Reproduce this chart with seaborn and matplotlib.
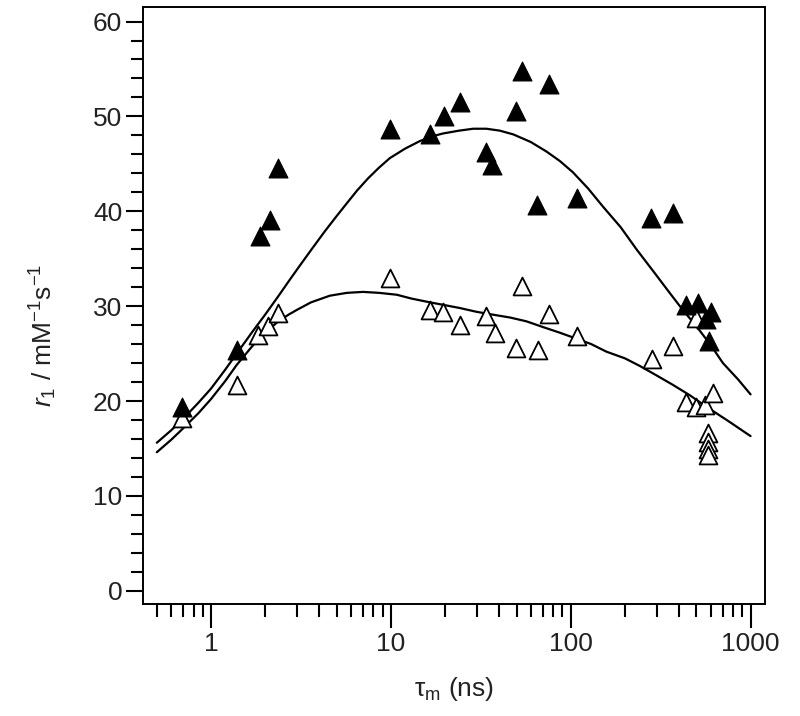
import matplotlib
matplotlib.use("Agg")
import matplotlib.pyplot as plt
import seaborn as sns
import pandas as pd
import numpy as np
from matplotlib.ticker import FixedLocator, LogLocator, NullFormatter, FixedFormatter

# ---- data ----
tau_filled = [0.69, 1.39, 1.87, 2.13, 2.37, 9.9, 16.5, 19.8, 24.2, 34.0, 36.3, 49.5, 53.9,
              65.0, 75.5, 109, 281, 370, 439, 509, 568, 587, 605]
r_filled = [19.4, 25.4, 37.4, 39.1, 44.6, 48.7, 48.1, 50.0, 51.5, 46.2, 44.9, 50.6, 54.8,
            40.7, 53.4, 41.4, 39.3, 39.8, 30.1, 30.3, 28.6, 26.3, 29.4]

tau_open = [0.69, 1.39, 1.83, 2.08, 2.37, 9.9, 16.5, 19.5, 24.2, 34.0, 37.8, 49.5, 53.9,
            65.8, 75.7, 108, 284, 370, 435, 499, 499, 555, 618, 580, 580, 580, 580]
r_open = [18.2, 21.7, 27.0, 27.9, 29.3, 33.0, 29.6, 29.4, 28.0, 29.0, 27.2, 25.6, 32.1,
          25.4, 29.2, 26.8, 24.4, 25.8, 19.9, 19.4, 28.8, 19.6, 20.8, 16.6, 15.7, 14.9, 14.3]

tau_fit_hi = [0.5, 0.6, 0.69, 0.85, 1.0, 1.2, 1.39, 1.7, 2.0, 2.4, 2.7, 3.1, 3.63, 4.3, 5.0,
              5.67, 6.5, 7.5, 8.6, 9.87, 12, 14.5, 17, 19.5, 24, 28.7, 34, 40.3, 48, 60,
              73.3, 87, 103, 125, 151, 190, 232, 290, 355, 420, 499, 600, 702, 850, 1000]
r_fit_hi = [15.6, 16.9, 18.0, 19.8, 21.3, 23.3, 25.0, 27.3, 29.1, 31.2, 32.6, 34.2, 36.0,
            37.9, 39.5, 40.8, 42.2, 43.5, 44.6, 45.6, 46.6, 47.4, 47.9, 48.2, 48.5, 48.7,
            48.7, 48.5, 48.1, 47.3, 46.3, 45.3, 44.1, 42.4, 40.5, 38.3, 36.0, 33.6, 31.4,
            29.6, 27.9, 25.9, 24.0, 22.3, 20.7]

tau_fit_lo = [0.5, 0.6, 0.69, 0.85, 1.0, 1.2, 1.39, 1.7, 2.0, 2.37, 2.7, 3.0, 3.6, 4.58, 5.7,
              7.0, 8.6, 10.8, 13, 16.5, 20, 24.2, 30, 37, 46, 56.7, 70, 87, 103, 130, 158,
              200, 242, 300, 370, 460, 568, 750, 1000]
r_fit_lo = [14.6, 15.9, 17.0, 18.7, 20.2, 22.1, 23.8, 25.8, 27.2, 28.4, 29.1, 29.6, 30.4,
            31.1, 31.4, 31.5, 31.4, 31.2, 30.8, 30.4, 30.1, 29.8, 29.4, 29.1, 28.8, 28.4,
            27.8, 27.2, 26.7, 26.0, 25.2, 24.5, 23.7, 22.7, 21.7, 20.6, 19.4, 17.9, 16.3]

x_major = [1, 10, 100, 1000]
x_labels = ["1", "10", "100", "1000"]
y_major = [0, 10, 20, 30, 40, 50, 60]

# ---- style ----
sns.set_style("ticks")
plt.rcParams["font.family"] = ["Liberation Sans", "DejaVu Sans"]
plt.rcParams["mathtext.fontset"] = "custom"
plt.rcParams["mathtext.rm"] = "Liberation Sans"
plt.rcParams["mathtext.it"] = "Liberation Sans:italic"

fig = plt.figure(figsize=(8.0, 7.16), dpi=100)
ax = fig.add_axes([0.179, 0.1564, 0.777, 0.8334])

df_hi = pd.DataFrame({"tau": tau_fit_hi, "r": r_fit_hi})
df_lo = pd.DataFrame({"tau": tau_fit_lo, "r": r_fit_lo})
sns.lineplot(data=df_hi, x="tau", y="r", ax=ax, color="black", lw=1.6, sort=False,
             estimator=None, zorder=2)
sns.lineplot(data=df_lo, x="tau", y="r", ax=ax, color="black", lw=1.6, sort=False,
             estimator=None, zorder=2)

df_open = pd.DataFrame({"tau": tau_open, "r": r_open})
df_filled = pd.DataFrame({"tau": tau_filled, "r": r_filled})
sns.scatterplot(data=df_open, x="tau", y="r", ax=ax, marker="^", s=165,
                facecolor="white", edgecolor="black", linewidth=1.3, zorder=3)
sns.scatterplot(data=df_filled, x="tau", y="r", ax=ax, marker="^", s=185,
                color="black", edgecolor="black", linewidth=0.8, zorder=4)

ax.set_xscale("log")
ax.set_xlim(0.42, 1200)
ax.set_ylim(-1.4, 61.5)

ax.xaxis.set_major_locator(FixedLocator(x_major))
ax.xaxis.set_major_formatter(FixedFormatter(x_labels))
ax.xaxis.set_minor_locator(LogLocator(base=10, subs=np.arange(2, 10)))
ax.xaxis.set_minor_formatter(NullFormatter())
ax.yaxis.set_major_locator(FixedLocator(y_major))
ax.yaxis.set_minor_locator(FixedLocator(np.arange(0, 61, 2)))

ax.tick_params(axis="both", which="major", direction="out", length=17, width=1.5,
               labelsize=19, colors="black", labelcolor="#222222", pad=3)
ax.tick_params(axis="both", which="minor", direction="out", length=9, width=1.5,
               colors="black")
ax.tick_params(axis="y", which="major", length=12)
ax.tick_params(axis="y", which="minor", length=9)

for s in ax.spines.values():
    s.set_visible(True)
    s.set_linewidth(1.4)
    s.set_color("black")

ax.set_xlabel(r"$\mathregular{\tau_m}$ (ns)", fontsize=19, color="#222222", labelpad=14)
ax.set_ylabel(r"$r_1$ / mM$^{\mathregular{-1}}$s$^{\mathregular{-1}}$", fontsize=19,
              color="#222222")
ax.yaxis.set_label_coords(-0.135, 0.45)

fig.savefig("out.png", dpi=100, facecolor="white")
